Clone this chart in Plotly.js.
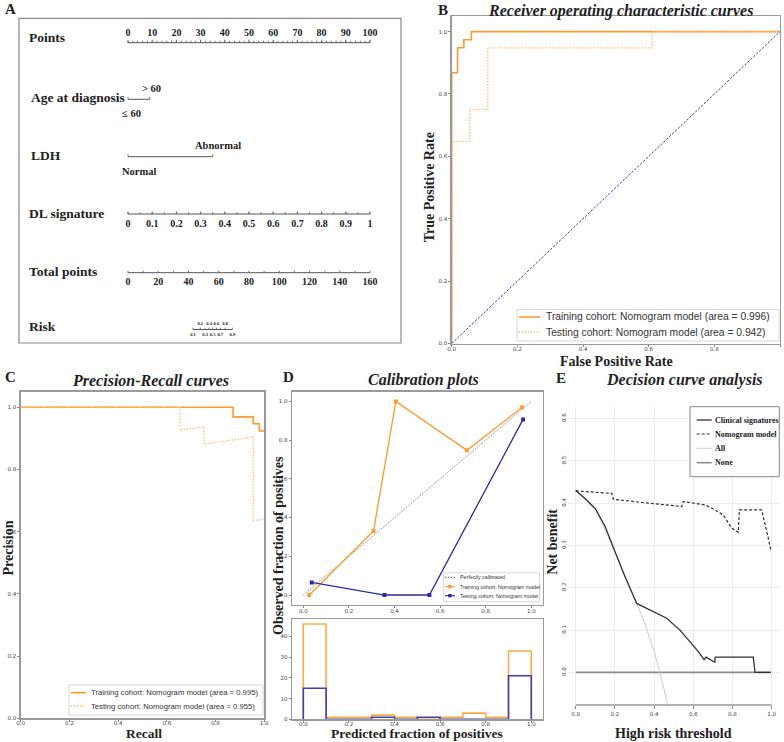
<!DOCTYPE html>
<html>
<head>
<meta charset="utf-8">
<script src="https://cdn.plot.ly/plotly-3.0.1.min.js"></script>
<style>html,body{margin:0;padding:0;background:#fff;overflow:hidden}</style>
</head>
<body>
<div id="chart" style="width:784px;height:742px"></div>
<script>
// ===================== DATA =====================
// Panel A – nomogram
const pointsTicks = [0,10,20,30,40,50,60,70,80,90,100];
const ageLevels = ['≤ 60', '> 60'];
const agePoints = [0, 9];
const ldhLevels = ['Normal', 'Abnormal'];
const ldhPoints = [0, 35];
const dlTicks = [0,0.1,0.2,0.3,0.4,0.5,0.6,0.7,0.8,0.9,1];
const dlTickLabels = ['0','0.1','0.2','0.3','0.4','0.5','0.6','0.7','0.8','0.9','1'];
const dlMaxPoints = 100;
const totalTicks = [0,20,40,60,80,100,120,140,160];
const totalMaxPoints = 160;
const riskTicks = [0.1,0.2,0.3,0.4,0.5,0.6,0.7,0.8,0.9];
const riskTotalPoints = [43,47.8,51,53.6,56,58.4,61,64.2,69];

// Panel B – ROC curves
const rocTrainFpr = [0,0,0.018,0.018,0.037,0.037,0.06,0.06,1];
const rocTrainTpr = [0,0.868,0.868,0.948,0.948,0.974,0.974,1,1];
const rocTestFpr  = [0,0,0.055,0.055,0.11,0.11,0.61,0.61,1];
const rocTestTpr  = [0,0.648,0.648,0.75,0.75,0.948,0.948,1,1];
const rocChance   = [0,1];
const rocTrainName = 'Training cohort: Nomogram model (area = 0.996)';
const rocTestName  = 'Testing cohort: Nomogram model (area = 0.942)';

// Panel C – Precision-Recall curves
const prTrainRecall    = [0,0.872,0.872,0.955,0.955,0.98,0.98,1.0];
const prTrainPrecision = [1,1,0.969,0.969,0.947,0.947,0.924,0.924];
const prTestRecall     = [0,0.654,0.654,0.753,0.753,0.955,0.955,1.0];
const prTestPrecision  = [1,1,0.927,0.937,0.881,0.905,0.635,0.64];
const prTrainName = 'Training cohort: Nomogram model (area = 0.995)';
const prTestName  = 'Testing cohort: Nomogram model (area = 0.955)';

// Panel D – calibration
const calPerfect   = [0,1];
const calTrainPred = [0.026,0.308,0.406,0.718,0.96];
const calTrainObs  = [0.0,0.331,1.0,0.747,0.97];
const calTestPred  = [0.037,0.356,0.553,0.964];
const calTestObs   = [0.065,0.0,0.0,0.907];
const histEdges    = [0,0.1,0.2,0.3,0.4,0.5,0.6,0.7,0.8,0.9,1.0];
const histTrain    = [46,1,1,2,1,0,1,3,1,33];
const histTest     = [15,0,0,1,0,1,0,0,0,21];
const calNames     = ['Perfectly calibrated','Training cohort: Nomogram model','Testing cohort: Nomogram model'];

// Panel E – decision curve analysis
const dcaClinT  = [0,0.05,0.1,0.15,0.2,0.25,0.311,0.35,0.396,0.464,0.532,0.583,0.626,0.655,0.665,0.71,0.712,0.906,0.915,0.995];
const dcaClinNB = [0.43,0.41,0.387,0.345,0.286,0.228,0.163,0.154,0.143,0.128,0.1,0.072,0.049,0.03,0.036,0.024,0.036,0.036,0.0,0.0];
const dcaNomoT  = [0,0.184,0.192,0.3,0.4,0.5,0.541,0.549,0.6,0.66,0.7,0.753,0.796,0.83,0.835,0.949,0.983,0.995];
const dcaNomoNB = [0.429,0.423,0.409,0.404,0.399,0.394,0.392,0.404,0.401,0.396,0.387,0.372,0.341,0.331,0.384,0.384,0.317,0.29];
const dcaAllT   = [0,0.1,0.2,0.311,0.35,0.4,0.43,0.47];
const dcaAllNB  = [0.43,0.387,0.286,0.163,0.12,0.05,0.0,-0.077];
const dcaNoneT  = [0,0.995];
const dcaNoneNB = [0,0];
const dcaNames  = ['Clinical signatures','Nomogram model','All','None'];

// ===================== STYLE / LAYOUT HELPERS =====================
const W = 784, H = 742;
const PX = v => v / W;
const PY = v => 1 - v / H;
const SERIF = 'Liberation Serif, Times New Roman, serif';
const SANS = 'DejaVu Sans, sans-serif';
const LSANS = 'Liberation Sans, Arial, sans-serif';
const ORANGE = '#ff9a30', ORANGE_L = '#ffc07a', NAVY = '#2b2ba3';
const DOT = '1.5px,1.5px';

const traces = [];
const annotations = [];
const shapes = [];

// ---------- Panel A: nomogram (x in "points", y in pixel rows) ----------
const NOMO = {px0: 128, scale: 2.42};
const ROW = {points: 42.7, age: 99.3, ldh: 156.7, dl: 214, total: 272.7, risk: 329.5};
const nomoLine = {color: '#555', width: 1};
function nLine(xs, y) {
  traces.push({type:'scatter', mode:'lines', x:[Math.min(...xs), Math.max(...xs)], y:[y,y],
    xaxis:'x', yaxis:'y', line:nomoLine, hoverinfo:'skip', showlegend:false});
}
function nTicks(xs, y, len) {
  const X = [], Y = [];
  xs.forEach(v => { X.push(v, v, null); Y.push(y, y - len, null); });
  traces.push({type:'scatter', mode:'lines', x:X, y:Y, xaxis:'x', yaxis:'y',
    line:{color:'#555', width:0.8}, hoverinfo:'skip', showlegend:false});
}
function nText(xs, y, texts, size) {
  traces.push({type:'scatter', mode:'text', x:xs, y:xs.map(() => y), text:texts,
    textposition:'middle center', cliponaxis:false,
    textfont:{family:SERIF, size:size, color:'#222', weight:'bold'},
    xaxis:'x', yaxis:'y', hoverinfo:'skip', showlegend:false});
}
function rowTitle(txt, xpx, ypx) {
  annotations.push({xref:'paper', yref:'paper', x:PX(xpx), y:PY(ypx), xanchor:'left', yanchor:'middle',
    text:txt, showarrow:false, font:{family:SERIF, size:13.5, color:'#222', weight:'bold'}});
}
function levelLabel(txt, xval, yval, xshift) {
  annotations.push({xref:'x', yref:'y', x:xval, y:yval, xanchor:'center', yanchor:'middle', xshift:xshift,
    text:txt, showarrow:false, font:{family:SERIF, size:10.5, color:'#222', weight:'bold'}});
}

// Points
nLine(pointsTicks, ROW.points);
const minorPts = []; for (let v = 0; v <= 100; v += 2) minorPts.push(v);
nTicks(minorPts, ROW.points, 2);
nTicks(pointsTicks, ROW.points, 3);
nText(pointsTicks, 33.3, pointsTicks.map(String), 10);
rowTitle('Points', 26.7, 37.7);
// Age
nLine(agePoints, ROW.age);
nTicks(agePoints, ROW.age, 2.5);
rowTitle('Age at diagnosis', 29, 98);
levelLabel(ageLevels[0], agePoints[0], ROW.age + 14, 3);
levelLabel(ageLevels[1], agePoints[1], ROW.age - 11.3, 2);
// LDH
nLine(ldhPoints, ROW.ldh);
nTicks(ldhPoints, ROW.ldh, 2.5);
rowTitle('LDH', 29, 155);
levelLabel(ldhLevels[0], ldhPoints[0], ROW.ldh + 14.3, 10.5);
levelLabel(ldhLevels[1], ldhPoints[1], ROW.ldh - 11.7, 5);
// DL signature
const dlPts = dlTicks.map(v => v * dlMaxPoints);
nLine(dlPts, ROW.dl);
const dlMinor = []; for (let v = 0; v <= 1.0001; v += 0.05) dlMinor.push(v * dlMaxPoints);
nTicks(dlMinor, ROW.dl, 1.8);
nTicks(dlPts, ROW.dl, 2.5);
nText(dlPts, 224.3, dlTickLabels, 10);
rowTitle('DL signature', 26.7, 213.5);
// Total points
const totPts = totalTicks.map(v => v * 100 / totalMaxPoints);
nLine(totPts, ROW.total);
const totMinor = []; for (let v = 0; v <= totalMaxPoints; v += 10) totMinor.push(v * 100 / totalMaxPoints);
nTicks(totMinor, ROW.total, 2);
nText(totPts, 282.7, totalTicks.map(String), 10);
rowTitle('Total points', 26.7, 272);
// Risk
const riskPts = riskTotalPoints.map(v => v * 100 / totalMaxPoints);
nLine(riskPts, ROW.risk);
nTicks(riskPts, ROW.risk, 1.8);
const riskUp = [], riskUpT = [], riskDn = [], riskDnT = [];
riskTicks.forEach((r, i) => {
  if (i % 2 === 1) { riskUp.push(riskPts[i]); riskUpT.push(String(r)); }
  else { riskDn.push(riskPts[i]); riskDnT.push(String(r)); }
});
nText(riskUp, 324.3, riskUpT, 4.6);
nText(riskDn, 335.2, riskDnT, 4.6);
rowTitle('Risk', 26.7, 326.5);
shapes.push({type:'rect', xref:'paper', yref:'paper', x0:PX(19), x1:PX(401), y0:PY(343), y1:PY(18.3),
  line:{color:'#8a8a8a', width:1.2}, fillcolor:'rgba(0,0,0,0)', layer:'below'});

// ---------- Panel B: ROC ----------
const stTrain = {color:ORANGE, width:1.6, dash:'solid'};
const stTest  = {color:ORANGE_L, width:1.3, dash:DOT};
traces.push({type:'scatter', mode:'lines', x:rocTrainFpr, y:rocTrainTpr, name:rocTrainName, showlegend:false,
  xaxis:'x2', yaxis:'y2', line:stTrain, hoverinfo:'skip'});
traces.push({type:'scatter', mode:'lines', x:rocTestFpr, y:rocTestTpr, name:rocTestName, showlegend:false,
  xaxis:'x2', yaxis:'y2', line:stTest, hoverinfo:'skip'});
traces.push({type:'scatter', mode:'lines', x:rocChance, y:rocChance, showlegend:false,
  xaxis:'x2', yaxis:'y2', line:{color:'#3b3bd0', width:1, dash:'2.5px,1.5px'}, hoverinfo:'skip'});

// ---------- Panel C: PR ----------
traces.push({type:'scatter', mode:'lines', x:prTrainRecall, y:prTrainPrecision, name:prTrainName, showlegend:false,
  xaxis:'x3', yaxis:'y3', line:stTrain, hoverinfo:'skip'});
traces.push({type:'scatter', mode:'lines', x:prTestRecall, y:prTestPrecision, name:prTestName, showlegend:false,
  xaxis:'x3', yaxis:'y3', line:stTest, hoverinfo:'skip'});

// ---------- Panel D: calibration ----------
const stPerfect = {color:'#777', width:0.9, dash:DOT};
traces.push({type:'scatter', mode:'lines', x:calPerfect, y:calPerfect, name:calNames[0], showlegend:false,
  xaxis:'x4', yaxis:'y4', line:stPerfect, hoverinfo:'skip'});
traces.push({type:'scatter', mode:'lines+markers', x:calTrainPred, y:calTrainObs, name:calNames[1], showlegend:false,
  xaxis:'x4', yaxis:'y4', line:{color:ORANGE, width:1.3}, marker:{symbol:'square', size:4, color:ORANGE}, hoverinfo:'skip'});
traces.push({type:'scatter', mode:'lines+markers', x:calTestPred, y:calTestObs, name:calNames[2], showlegend:false,
  xaxis:'x4', yaxis:'y4', line:{color:NAVY, width:1.3}, marker:{symbol:'square', size:4, color:NAVY}, hoverinfo:'skip'});
function stepOutline(edges, counts) {
  const xs = [edges[0]], ys = [0];
  counts.forEach((c, i) => { xs.push(edges[i]); ys.push(c); });
  xs.push(edges[edges.length - 1]); ys.push(counts[counts.length - 1]);
  xs.push(edges[edges.length - 1]); ys.push(0);
  return {xs, ys};
}
const hTr = stepOutline(histEdges, histTrain);
const hTe = stepOutline(histEdges, histTest);
traces.push({type:'scatter', mode:'lines', x:hTr.xs, y:hTr.ys, line:{shape:'hv', color:'#ffaa44', width:1.6},
  xaxis:'x5', yaxis:'y5', showlegend:false, hoverinfo:'skip', cliponaxis:false});
traces.push({type:'scatter', mode:'lines', x:hTe.xs, y:hTe.ys, line:{shape:'hv', color:'#4040b0', width:1.6},
  xaxis:'x5', yaxis:'y5', showlegend:false, hoverinfo:'skip', cliponaxis:false});

// ---------- Panel E: DCA ----------
const stClin = {color:'#333', width:1.3, dash:'solid'};
const stNomo = {color:'#333', width:1.2, dash:'3px,2px'};
const stAll  = {color:'#cdcdcd', width:1, dash:'solid'};
const stNone = {color:'#8c8c8c', width:1.6, dash:'solid'};
traces.push({type:'scatter', mode:'lines', x:dcaNoneT, y:dcaNoneNB, name:dcaNames[3], showlegend:false,
  xaxis:'x6', yaxis:'y6', line:stNone, hoverinfo:'skip'});
traces.push({type:'scatter', mode:'lines', x:dcaAllT, y:dcaAllNB, name:dcaNames[2], showlegend:false,
  xaxis:'x6', yaxis:'y6', line:stAll, hoverinfo:'skip'});
traces.push({type:'scatter', mode:'lines', x:dcaClinT, y:dcaClinNB, name:dcaNames[0], showlegend:false,
  xaxis:'x6', yaxis:'y6', line:stClin, hoverinfo:'skip'});
traces.push({type:'scatter', mode:'lines', x:dcaNomoT, y:dcaNomoNB, name:dcaNames[1], showlegend:false,
  xaxis:'x6', yaxis:'y6', line:stNomo, hoverinfo:'skip'});

// ---------- Axes ----------
const tickFont = {family:SANS, size:5.5, color:'#444'};
function mplAxis(dom, rng, anchor, dtick, fmt, standoff) {
  const a = {domain:dom, range:rng, anchor:anchor, tick0:0, dtick:dtick, tickformat:fmt,
    ticks:'outside', ticklen:2, tickwidth:0.8, tickcolor:'#666',
    showline:true, mirror:true, linecolor:'#9a9a9a', linewidth:1.3,
    showgrid:false, zeroline:false, tickfont:tickFont, fixedrange:true};
  if (standoff !== undefined) a.ticklabelstandoff = standoff;
  return a;
}
const dB = {x:[PX(451.7), PX(780)], y:[PY(343.5), PY(16)]};
const dC = {x:[PX(20.7), PX(264.2)], y:[PY(718.3), PY(391.7)]};
const dDx = [PX(291.9), PX(542.7)];
const dDu = [PY(604.7), PY(391.7)];
const dDl = [PY(719.3), PY(619.3)];
const dE = {x:[PX(567.9), PX(779.5)], y:[PY(705), PY(406.7)]};

// ---------- Titles and labels ----------
function ann(txt, x, y, size, opts) {
  annotations.push(Object.assign({xref:'paper', yref:'paper', x:PX(x), y:PY(y), xanchor:'center', yanchor:'middle',
    text:txt, showarrow:false, font:{family:SERIF, size:size, color:'#222', weight:'bold'}}, opts || {}));
}
function titleAnn(txt, x, y) {
  annotations.push({xref:'paper', yref:'paper', x:PX(x), y:PY(y), xanchor:'center', yanchor:'middle',
    text:txt, showarrow:false, font:{family:SERIF, size:16, color:'#222', weight:'bold', style:'italic'}});
}
ann('A', 10.5, 9.5, 15);
ann('B', 443, 10, 15);
ann('C', 10, 377, 15);
ann('D', 288, 377, 15);
ann('E', 560.5, 378, 15);
titleAnn('Receiver operating characteristic curves', 620, 10.5);
titleAnn('Precision-Recall curves', 150, 380);
titleAnn('Calibration plots', 423, 380);
titleAnn('Decision curve analysis', 684, 380);
ann('True Positive Rate', 429.3, 187, 14, {textangle:-90});
ann('False Positive Rate', 616, 361, 14);
ann('Precision', 7.5, 548, 14, {textangle:-90});
ann('Recall', 144, 742, 13.5, {yanchor:'bottom', borderpad:0});
ann('Observed fraction of positives', 278, 546, 14, {textangle:-90});
ann('Predicted fraction of positives', 417, 742, 13.5, {yanchor:'bottom', borderpad:0});
ann('Net benefit', 551.7, 542, 14, {textangle:-90});
ann('High risk threshold', 673.5, 733, 14);

// E x-axis line (R style, spans first to last tick)
shapes.push({type:'line', xref:'x6', yref:'paper', x0:0, x1:1, y0:PY(705), y1:PY(705),
  line:{color:'#666', width:1}});

// ---------- Compact legends (matplotlib / R style) ----------
function legendBox(cfg) {
  shapes.push({type:'rect', xref:'paper', yref:'paper', x0:PX(cfg.x0), x1:PX(cfg.x1), y0:PY(cfg.y1), y1:PY(cfg.y0),
    fillcolor:cfg.fill || 'rgba(255,255,255,0.9)', line:{color:cfg.border, width:cfg.bw}});
  cfg.items.forEach((it, i) => {
    const yy = cfg.rows[i];
    shapes.push({type:'line', xref:'paper', yref:'paper', x0:PX(cfg.lx0), x1:PX(cfg.lx1), y0:PY(yy), y1:PY(yy),
      line:{color:it.style.color, width:it.style.width, dash:it.style.dash}});
    if (it.marker) shapes.push({type:'rect', xref:'paper', yref:'paper',
      x0:PX((cfg.lx0 + cfg.lx1) / 2 - 1.7), x1:PX((cfg.lx0 + cfg.lx1) / 2 + 1.7),
      y0:PY(yy + 1.7), y1:PY(yy - 1.7), fillcolor:it.style.color, line:{width:0}});
    annotations.push({xref:'paper', yref:'paper', x:PX(cfg.tx), y:PY(yy), xanchor:'left', yanchor:'middle',
      text:it.text, showarrow:false, font:cfg.font});
  });
}
legendBox({x0:517, x1:779, y0:309.5, y1:341, rows:[317, 332], lx0:518.5, lx1:540, tx:544,
  border:'#d4d4d4', bw:0.9, font:{family:LSANS, size:10.3, color:'#333'},
  items:[{text:rocTrainName, style:stTrain}, {text:rocTestName, style:stTest}]});
legendBox({x0:69, x1:263, y0:685, y1:715, rows:[692.7, 706], lx0:70.7, lx1:86, tx:89,
  border:'#d4d4d4', bw:0.9, font:{family:LSANS, size:7.7, color:'#333'},
  items:[{text:prTrainName, style:stTrain}, {text:prTestName, style:stTest}]});
legendBox({x0:443.3, x1:539.5, y0:572.7, y1:601.7, rows:[577.3, 586.7, 595.7], lx0:444.8, lx1:455, tx:457.7,
  border:'#d2d2d2', bw:0.8, font:{family:LSANS, size:5.3, color:'#333'},
  items:[{text:calNames[0], style:{color:'#555', width:1.1, dash:DOT}},
         {text:calNames[1], style:{color:ORANGE, width:1.1, dash:'solid'}, marker:true},
         {text:calNames[2], style:{color:NAVY, width:1.1, dash:'solid'}, marker:true}]});
legendBox({x0:690, x1:779.3, y0:406.7, y1:476.7, rows:[420, 434, 448.3, 462.7], lx0:696.7, lx1:711.7, tx:712.7,
  fill:'#fff', border:'#888', bw:1, font:{family:SERIF, size:8, color:'#222', weight:'bold'},
  items:[{text:dcaNames[0], style:stClin}, {text:dcaNames[1], style:stNomo},
         {text:dcaNames[2], style:stAll}, {text:dcaNames[3], style:stNone}]});

const layout = {
  width:W, height:H, margin:{l:0, r:0, t:0, b:0}, autosize:false,
  paper_bgcolor:'#fff', plot_bgcolor:'rgba(0,0,0,0)', showlegend:false, hovermode:false,
  xaxis:{domain:[PX(19), PX(401)], range:[-(NOMO.px0 - 19) / NOMO.scale, -(NOMO.px0 - 19) / NOMO.scale + 382 / NOMO.scale],
    visible:false, fixedrange:true, anchor:'y'},
  yaxis:{domain:[PY(343), PY(18.3)], range:[343, 18.3], visible:false, fixedrange:true, anchor:'x'},
  xaxis2: mplAxis(dB.x, [0, 1], 'y2', 0.2, '.1f', -2),
  yaxis2: mplAxis(dB.y, [0, 1.05], 'x2', 0.2, '.1f'),
  xaxis3: mplAxis(dC.x, [0, 1], 'y3', 0.2, '.1f', -3),
  yaxis3: mplAxis(dC.y, [0, 1.05], 'x3', 0.2, '.1f'),
  xaxis4: mplAxis(dDx, [-0.05, 1.05], 'y4', 0.2, '.1f', -2),
  yaxis4: mplAxis(dDu, [-0.05, 1.05], 'x4', 0.2, '.1f'),
  xaxis5: mplAxis(dDx, [-0.05, 1.05], 'y5', 0.2, '.1f', -3),
  yaxis5: mplAxis(dDl, [0, 48.3], 'x5', 10, 'd'),
  xaxis6: {domain:dE.x, range:[-0.04, 1.04], anchor:'y6', tick0:0, dtick:0.2, tickformat:'.1f',
    ticks:'outside', ticklen:3, tickwidth:0.8, tickcolor:'#666', showline:false, showgrid:true,
    gridcolor:'#ececec', gridwidth:1, zeroline:false, tickfont:tickFont, fixedrange:true},
  yaxis6: {domain:dE.y, range:[-0.077, 0.628], anchor:'x6', tick0:0, dtick:0.1, tickformat:'.1f', tickangle:-90,
    ticks:'', showline:false, showgrid:true, gridcolor:'#ececec', gridwidth:1, zeroline:false,
    tickfont:tickFont, fixedrange:true},
  annotations:annotations, shapes:shapes
};
Plotly.newPlot('chart', traces, layout, {staticPlot:true, displayModeBar:false});
</script>
</body>
</html>
